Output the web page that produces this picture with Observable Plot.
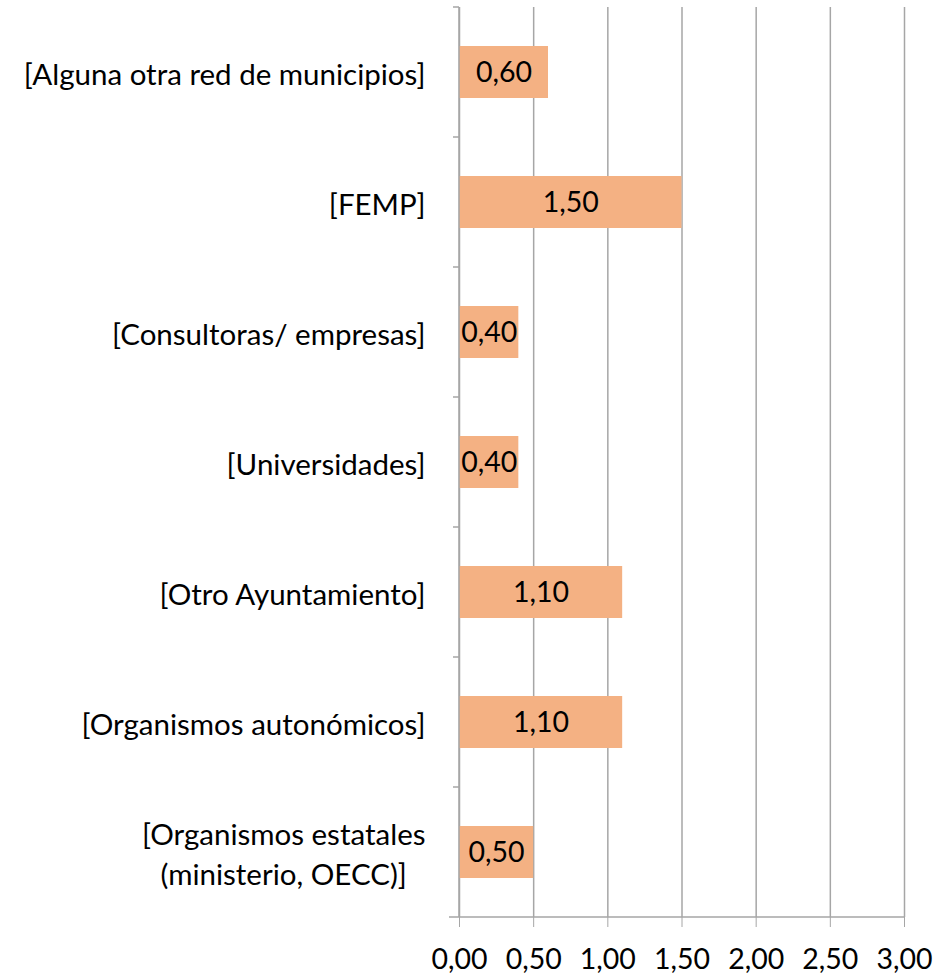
<!DOCTYPE html>
<html>
<head>
<meta charset="utf-8">
<script src="https://cdn.jsdelivr.net/npm/d3@7"></script>
<script src="https://cdn.jsdelivr.net/npm/@observablehq/plot@0.6"></script>
<style>
  html, body { margin: 0; padding: 0; background: white; }
</style>
</head>
<body>
<div id="chart"></div>
<script>
const categories = [
  "[Alguna otra red de municipios]",
  "[FEMP]",
  "[Consultoras/ empresas]",
  "[Universidades]",
  "[Otro Ayuntamiento]",
  "[Organismos autonómicos]",
  "[Organismos estatales\n(ministerio, OECC)]"
];
const values = [0.60, 1.50, 0.40, 0.40, 1.10, 1.10, 0.50];
const xTicks = [0, 0.5, 1, 1.5, 2, 2.5, 3];

const data = categories.map((c, i) => ({cat: c, value: values[i]}));
const fmt = v => d3.format(".2f")(v).replace(".", ",");
const gray = "#A6A6A6";

const plot = Plot.plot({
  width: 938,
  height: 974,
  marginLeft: 459,
  marginRight: 34,
  marginTop: 7,
  marginBottom: 57,
  style: {fontFamily: "Lato, sans-serif", fontSize: "28px", color: "#000", background: "white"},
  x: {domain: [0, 3]},
  y: {domain: categories, paddingInner: 0.6, paddingOuter: 0.3},
  marks: [
    Plot.gridX(xTicks, {stroke: gray, strokeOpacity: 1, strokeWidth: 1.5}),
    Plot.barX(data, {y: "cat", x: "value", fill: "#F4B183"}),
    Plot.text(data, {y: "cat", x: d => d.value / 2, text: d => fmt(d.value), fill: "black", fontSize: 28.5}),
    Plot.axisX(xTicks, {tickSize: 10, tickPadding: 21, tickFormat: fmt, stroke: gray, strokeOpacity: 1, fill: "black", label: null, fontSize: 28.5}),
    Plot.axisY({tickSize: 0, tickPadding: 34, label: null, fill: "black", fontSize: 29.5, lineHeight: 1.33})
  ]
});
document.getElementById("chart").appendChild(plot);

// Category-boundary ticks and axis lines derived from the scales
const sx = plot.scale("x"), sy = plot.scale("y");
const step = sy.step, bw = sy.bandwidth;
const bounds = categories.map(c => sy.apply(c) - (step - bw) / 2);
bounds.push(bounds[bounds.length - 1] + step);
const x0 = sx.apply(0), x3 = sx.apply(3);
const svg = d3.select(plot);
const g = svg.append("g").attr("stroke", gray).attr("stroke-width", 1.5);
g.append("line").attr("x1", x0).attr("x2", x0).attr("y1", bounds[0]).attr("y2", bounds[bounds.length - 1]);
bounds.slice(0, -1).forEach(b => {
  g.append("line").attr("x1", x0 - 6).attr("x2", x0).attr("y1", b).attr("y2", b);
});
const yb = bounds[bounds.length - 1];
g.append("line").attr("x1", x0 - 10).attr("x2", x3).attr("y1", yb).attr("y2", yb);

// Center multi-line y labels block-wise
svg.selectAll("g[aria-label='y-axis tick label'] text").each(function() {
  const tspans = this.querySelectorAll("tspan");
  if (tspans.length > 1) {
    const widths = Array.from(tspans, t => t.getComputedTextLength());
    const maxW = Math.max(...widths);
    this.setAttribute("text-anchor", "middle");
    tspans.forEach(t => t.setAttribute("x", -maxW / 2));
  }
});
</script>
</body>
</html>
